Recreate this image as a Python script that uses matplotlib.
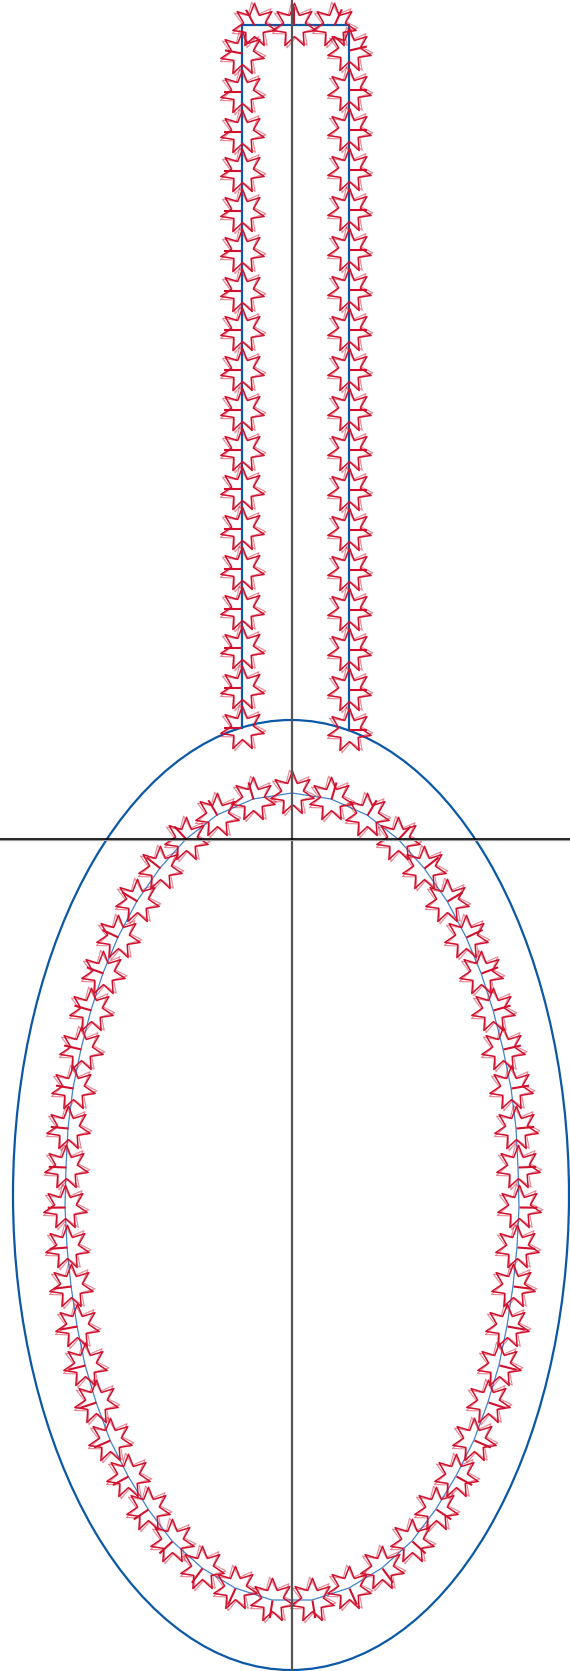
import numpy as np
import matplotlib
matplotlib.use("Agg")
import matplotlib.pyplot as plt
from matplotlib.patches import Ellipse
from matplotlib.path import Path
from matplotlib.markers import MarkerStyle
from matplotlib.transforms import Affine2D

# ---------------- data (plot units, origin at the axis crossing) ----------------
# inner ring of star markers, clockwise from the top
ring_x = [0, 39, 75, 106, 132, 155, 174, 189, 201, 211, 219, 224, 226, 227, 225, 221,
          215, 207, 196, 182, 164, 144, 120, 90, 57, 20,
          -20, -57, -90, -120, -144, -164, -182, -196, -207, -215, -221, -225, -227,
          -226, -224, -219, -211, -201, -189, -174, -155, -132, -106, -75, -39]
ring_y = [46, 40, 24, 0, -29, -62, -98, -134, -171, -210, -249, -289, -328, -368, -408,
          -447, -487, -526, -563, -601, -637, -670, -702, -729, -749, -761,
          -761, -749, -729, -702, -670, -637, -601, -563, -526, -487, -447, -408, -368,
          -328, -289, -249, -210, -171, -134, -98, -62, -29, 0, 24, 40]

# neck markers: up the left side, across the top, down the right side
neck_x = [-50, -50, -50, -50, -50, -50, -50, -50, -50, -50, -50, -50, -50, -50, -50,
          -50, -50, -50, -38, 2, 42, 57, 57, 57, 57, 57, 57, 57, 57, 57, 57, 57, 57, 57,
          57, 57, 57, 57, 57]
neck_y = [111, 151, 191, 230, 270, 310, 350, 389, 429, 469, 509, 548, 588, 628, 668,
          707, 747, 786, 814, 814, 814, 789, 749, 709, 669, 629, 589, 549, 509, 469, 429,
          389, 349, 309, 269, 229, 189, 149, 109]

# neck outline
neck_line_x = [-50, -50, 57, 57]
neck_line_y = [111, 814, 814, 109]

# body ellipse
body_cx, body_cy = -1, -356
body_w, body_h = 556, 950

# axis limits
x_min, x_max = -292, 278
y_min, y_max = -832, 839

# ---------------- style ----------------
RED = "#d0102c"
BLUE = "#0b58a6"
LIGHT_BLUE = "#3f84cc"
MS = 32

# 7-point star outline (point up)
n_pts = 7
ang = np.pi / 2 + np.arange(2 * n_pts) * np.pi / n_pts
rad = np.where(np.arange(2 * n_pts) % 2 == 0, 1.0, 0.5)
star_verts = np.column_stack([rad * np.cos(ang), rad * np.sin(ang)])
star_verts = np.vstack([star_verts, star_verts[:1]])
star_codes = [Path.MOVETO] + [Path.LINETO] * (2 * n_pts - 1) + [Path.CLOSEPOLY]
star_path = Path(star_verts, star_codes)
hand_path = Path([(0, 0), (1, 0)], [Path.MOVETO, Path.LINETO])


def normals(x, y, closed):
    x = np.asarray(x, float)
    y = np.asarray(y, float)
    if closed:
        tx = np.roll(x, -1) - np.roll(x, 1)
        ty = np.roll(y, -1) - np.roll(y, 1)
    else:
        tx = np.gradient(x)
        ty = np.gradient(y)
    # rotate tangent by +90 degrees -> outward for clockwise traversal
    return np.degrees(np.arctan2(tx, -ty))


fig = plt.figure(figsize=(5.7, 16.71), dpi=100)
ax = fig.add_axes([0, 0, 1, 1])
ax.set_xlim(x_min, x_max)
ax.set_ylim(y_min, y_max)
ax.set_aspect("equal")
ax.axis("off")

# body
ax.add_patch(Ellipse((body_cx, body_cy), body_w, body_h, fill=False,
                     edgecolor=BLUE, lw=1.6, zorder=2))
# neck outline
ax.plot(neck_line_x, neck_line_y, color=BLUE, lw=1.6, zorder=2)
# inner ring line
ax.plot(ring_x + ring_x[:1], ring_y + ring_y[:1], color=LIGHT_BLUE, lw=0.9, zorder=2)


def draw_markers(xs, ys, closed):
    angles = normals(xs, ys, closed)
    star2 = MarkerStyle(star_path, transform=Affine2D().rotate_deg(7))
    ax.plot(xs, ys, ls="none", marker=star_path, ms=MS, mfc="none", mec=RED,
            mew=1.1, zorder=3)
    ax.plot(xs, ys, ls="none", marker=star2, ms=MS * 1.06, mfc="none", mec=RED,
            mew=0.8, alpha=0.5, zorder=3)
    for xi, yi, a in zip(xs, ys, angles):
        m = MarkerStyle(hand_path, transform=Affine2D().rotate_deg(a))
        ax.plot([xi], [yi], ls="none", marker=m, ms=MS * 0.8, mfc="none",
                mec=RED, mew=1.5, zorder=3)


draw_markers(neck_x, neck_y, closed=False)
draw_markers(ring_x, ring_y, closed=True)

# axis lines
ax.axvline(0, color="#555555", lw=1.6, zorder=5)
ax.axhline(-1.0, color="#9a9a9a", lw=0.9, zorder=5)
ax.axhline(0, color="black", lw=1.2, zorder=5)

fig.savefig("out.png", dpi=100)
